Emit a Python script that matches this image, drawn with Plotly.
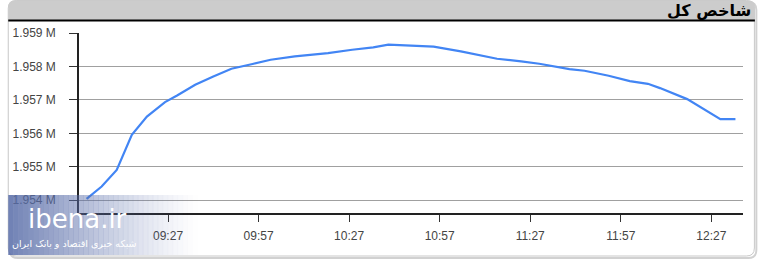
import plotly.graph_objects as go

# ---- data ----
times = ["09:00", "09:05", "09:10", "09:15", "09:20", "09:26", "09:30", "09:36",
         "09:42", "09:48", "09:55", "10:01", "10:09", "10:20", "10:28", "10:35",
         "10:40", "10:47", "10:55", "11:04", "11:11", "11:16", "11:24", "11:30",
         "11:40", "11:45", "11:53", "12:00", "12:06", "12:10", "12:19", "12:30",
         "12:35"]
values = [1954040, 1954410, 1954907, 1955955, 1956503, 1956934, 1957132, 1957452,
          1957701, 1957931, 1958072, 1958201, 1958300, 1958401, 1958500, 1958569,
          1958650, 1958629, 1958590, 1958449, 1958329, 1958231, 1958150, 1958081,
          1957922, 1957871, 1957722, 1957563, 1957482, 1957353, 1957024, 1956425,
          1956425]
y_tick_vals = [1954000, 1955000, 1956000, 1957000, 1958000, 1959000]
y_tick_text = ["1.954 M", "1.955 M", "1.956 M", "1.957 M", "1.958 M", "1.959 M"]
x_tick_labels = ["09:27", "09:57", "10:27", "10:57", "11:27", "11:57", "12:27"]
title_text = "شاخص کل"
brand_text = "ibena.ir"
brand_sub = "شبکه خبری اقتصاد و بانک ایران"

DAY = "2024-01-01 "
xs = [DAY + t for t in times]
xticks = [DAY + t for t in x_tick_labels]

W, H = 759, 259
L, R, T, B = 72, 743, 33, 213
pw, ph = R - L, B - T


def px(x):
    return (x - L) / pw


def py(y):
    return (B - y) / ph


fig = go.Figure()
fig.add_trace(go.Scatter(x=xs, y=values, mode="lines",
                         line=dict(color="#4285f4", width=2.2), hoverinfo="skip"))

shapes = []


def rounded(x0, y0, x1, y1, r):
    return (f"M {px(x0+r)},{py(y0)} L {px(x1-r)},{py(y0)} Q {px(x1)},{py(y0)} {px(x1)},{py(y0+r)} "
            f"L {px(x1)},{py(y1-r)} Q {px(x1)},{py(y1)} {px(x1-r)},{py(y1)} "
            f"L {px(x0+r)},{py(y1)} Q {px(x0)},{py(y1)} {px(x0)},{py(y1-r)} "
            f"L {px(x0)},{py(y0+r)} Q {px(x0)},{py(y0)} {px(x0+r)},{py(y0)} Z")


# outer border (rounded) with subtle shadow
shapes.append(dict(type="path", xref="paper", yref="paper",
                   path=rounded(2, 2, 756.5, 258, 8),
                   line=dict(color="rgba(0,0,0,0.18)", width=2), layer="below"))
shapes.append(dict(type="path", xref="paper", yref="paper",
                   path=rounded(0.5, 0.5, 754.5, 256, 8),
                   line=dict(color="#c8c8c8", width=1), fillcolor="white", layer="below"))
# title bar
shapes.append(dict(type="path", xref="paper", yref="paper",
                   path=(f"M {px(0.5)},{py(20)} L {px(0.5)},{py(7)} Q {px(0.5)},{py(0.5)} {px(7)},{py(0.5)} "
                         f"L {px(749)},{py(0.5)} Q {px(755)},{py(0.5)} {px(755)},{py(7)} L {px(755)},{py(20)} Z"),
                   fillcolor="#cccccc", line=dict(width=0), layer="below"))
shapes.append(dict(type="line", xref="paper", yref="paper",
                   x0=px(0.5), x1=px(755), y0=py(20.5), y1=py(20.5),
                   line=dict(color="black", width=2)))

# watermark gradient panel
n = 38
x_start, x_end = 0.5, 192
y_top, y_bot = 195, 255
step = (x_end - x_start) / n
for i in range(n):
    a = 0.85 * (1 - i / n) ** 1.3
    shapes.append(dict(type="rect", xref="paper", yref="paper",
                       x0=px(x_start + i * step), x1=px(x_start + (i + 1) * step + 0.3),
                       y0=py(y_bot), y1=py(y_top),
                       fillcolor=f"rgba(88,108,168,{a:.3f})", line=dict(width=0), layer="above"))

annotations = [
    dict(text=f"<b>{title_text}</b>", xref="paper", yref="paper", x=px(753), y=py(10),
         xanchor="right", yanchor="middle", showarrow=False,
         font=dict(family="DejaVu Sans", size=16, color="black")),
    dict(text=brand_text, xref="paper", yref="paper", x=px(18), y=py(219),
         xanchor="left", yanchor="middle", showarrow=False,
         font=dict(family="DejaVu Sans", size=26, color="white")),
    dict(text=brand_sub, xref="paper", yref="paper", x=px(133), y=py(243),
         xanchor="right", yanchor="middle", showarrow=False,
         font=dict(family="DejaVu Sans", size=9.5, color="white")),
]

fig.update_layout(
    width=W, height=H,
    margin=dict(l=L, r=W - R, t=T, b=H - B),
    paper_bgcolor="rgba(0,0,0,0)", plot_bgcolor="rgba(0,0,0,0)",
    showlegend=False,
    shapes=shapes, annotations=annotations,
    xaxis=dict(type="date", range=[DAY + "08:57:30", DAY + "12:37:30"],
               tickvals=xticks, ticktext=x_tick_labels,
               showgrid=False, showline=True, linecolor="#222", linewidth=1.5,
               ticks="outside", ticklen=7, tickcolor="#333", tickwidth=1,
               ticklabelstandoff=4,
               tickfont=dict(family="Liberation Sans", size=12, color="#444"),
               zeroline=False, fixedrange=True),
    yaxis=dict(range=[1953620, 1959000], tickvals=y_tick_vals, ticktext=y_tick_text,
               showgrid=True, gridcolor="#a0a0a0", gridwidth=1,
               showline=True, linecolor="#222", linewidth=1.5,
               ticks="outside", ticklen=8, tickcolor="#333", tickwidth=1,
               ticklabelstandoff=11,
               tickfont=dict(family="Liberation Sans", size=12, color="#444"),
               zeroline=False, fixedrange=True),
)

fig.write_html("out.html", config={"displayModeBar": False})
